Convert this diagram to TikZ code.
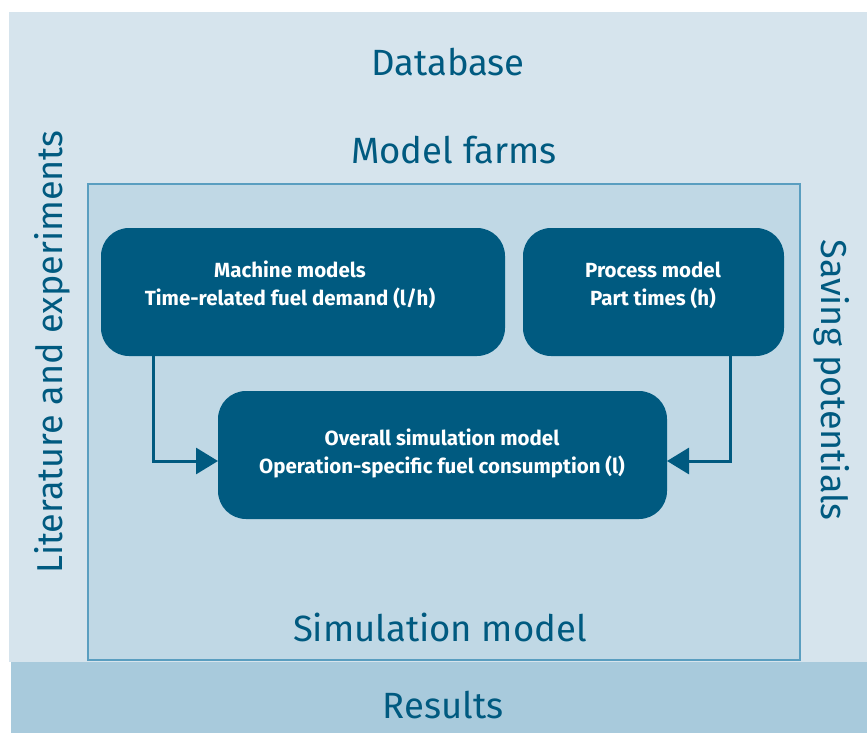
\documentclass[tikz,border=0pt]{standalone}
\usepackage{fontspec}
\setmainfont{Fira Sans}
\usetikzlibrary{arrows.meta}
\definecolor{bgA}{HTML}{D6E4ED}
\definecolor{bgB}{HTML}{C0D8E5}
\definecolor{bgC}{HTML}{A8CADC}
\definecolor{frame}{HTML}{5A9EC0}
\definecolor{dark}{HTML}{005A80}
\begin{document}
\begin{tikzpicture}[x=1pt,y=-1pt,
  lbl/.style={text=dark,font=\fontsize{36.5}{42}\selectfont,inner sep=0pt},
  sidelbl/.style={text=dark,font=\fontsize{36}{42}\selectfont,inner sep=0pt},
  boxf/.style={fill=dark,rounded corners=28pt},
  boxt/.style={text=white,font=\bfseries\fontsize{20.5}{28}\selectfont,align=center,inner sep=0pt},
  conn/.style={draw=dark,line width=3pt,-{Triangle[length=22pt,width=26pt]}}]
\useasboundingbox (0,0) rectangle (867,733);
\fill[white] (0,0) rectangle (867,733);
\fill[bgA] (9,12) rectangle (867,662);
\fill[bgC] (11,662) rectangle (867,733);
\draw[fill=bgB,draw=frame,line width=2pt] (88,184) rectangle (800,660);
\node[lbl] (db) at (448,62) {Database};
\node[lbl] (mf) at (454,150) {Model farms};
\node[lbl] (sm) at (440,627) {Simulation model};
\node[lbl] (res) at (443,705) {Results};
\node[sidelbl,rotate=90] (lit) at (52,352) {Literature and experiments};
\node[sidelbl,rotate=-90] (sav) at (832,380) {Saving potentials};
\path[boxf] (101,228) rectangle (505,356);
\node[boxt] (mm) at (290,285) {Machine models\\Time-related fuel demand (l/h)};
\path[boxf] (523,228) rectangle (784,356);
\node[boxt] (pm) at (653,285) {Process model\\Part times (h)};
\path[boxf] (218,391) rectangle (667,519);
\node[boxt] (om) at (442,453) {Overall simulation model\\Operation-specific fuel consumption (l)};
\coordinate (mmb) at (153,356);
\coordinate (pmb) at (730,356);
\coordinate (omL) at (218,461);
\coordinate (omR) at (667,461);
\draw[conn] (mmb) |- (omL);
\draw[conn] (pmb) |- (omR);
\end{tikzpicture}
\end{document}
